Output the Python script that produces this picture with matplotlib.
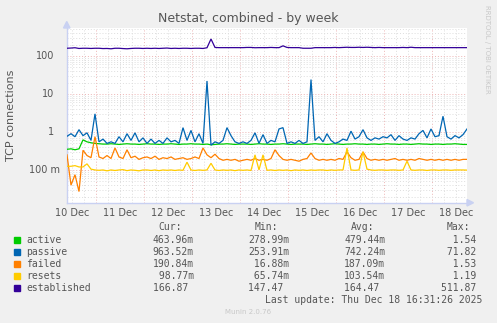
import numpy as np
import matplotlib
matplotlib.use("Agg")
import matplotlib.pyplot as plt
from matplotlib.patches import Rectangle, Polygon
import matplotlib.transforms as mtransforms

# ---------------- data (2-hour samples, starting Dec 10 ~09:25) ----------------
start_day = 0.392  # days after Dec 10 00:00
step_hours = 2.0

active = [0.35,0.36,0.34,0.36,0.62,0.55,0.52,0.5,0.49,0.48,
          0.48,0.49,0.48,0.47,0.48,0.49,0.48,0.48,0.47,0.48,
          0.49,0.48,0.48,0.47,0.48,0.48,0.49,0.48,0.47,0.48,
          0.48,0.49,0.48,0.48,0.47,0.48,0.46,0.47,0.48,0.48,
          0.49,0.48,0.47,0.48,0.48,0.48,0.47,0.48,0.49,0.48,
          0.48,0.47,0.48,0.48,0.49,0.48,0.47,0.48,0.48,0.48,
          0.47,0.48,0.49,0.48,0.48,0.47,0.48,0.49,0.48,0.47,
          0.48,0.48,0.49,0.48,0.48,0.47,0.48,0.48,0.47,0.48,
          0.49,0.48,0.48,0.47,0.48,0.48,0.47,0.48,0.49,0.48,
          0.48,0.47,0.48,0.48,0.47,0.48,0.48,0.49,0.48,0.47,
          0.47]

passive = [0.77,0.9,0.75,1.15,0.8,0.95,0.6,3.0,0.55,0.65,
           0.5,0.55,0.5,0.75,0.55,0.9,0.6,0.95,0.55,0.7,
           0.5,0.65,0.5,0.6,0.5,0.7,0.55,0.6,0.5,1.3,
           0.6,1.1,0.55,0.9,0.5,22.0,0.45,0.55,0.5,0.6,
           1.3,0.8,0.55,0.5,0.55,0.5,0.6,0.95,0.5,0.85,
           0.5,0.6,0.55,1.2,1.3,0.5,0.55,0.5,0.6,0.5,
           0.55,24.0,0.6,0.75,0.55,0.9,0.6,0.5,0.55,0.65,
           0.6,1.05,0.65,0.75,1.15,0.7,0.6,0.7,0.65,0.75,
           0.7,0.85,0.6,0.8,0.65,0.6,0.7,0.65,0.9,1.1,
           0.7,1.2,0.75,0.8,2.6,0.75,0.65,0.8,0.7,0.85,
           1.2]

failed = [0.25,0.04,0.075,0.027,0.33,0.24,0.21,0.75,0.22,0.2,
          0.24,0.2,0.38,0.22,0.2,0.34,0.21,0.23,0.19,0.21,
          0.22,0.2,0.23,0.19,0.21,0.2,0.22,0.19,0.2,0.21,
          0.19,0.2,0.22,0.2,0.38,0.25,0.21,0.26,0.2,0.18,
          0.19,0.18,0.19,0.17,0.18,0.19,0.18,0.2,0.18,0.19,
          0.18,0.2,0.34,0.24,0.19,0.18,0.19,0.18,0.17,0.19,
          0.2,0.28,0.2,0.18,0.19,0.18,0.19,0.18,0.2,0.19,
          0.3,0.21,0.18,0.19,0.3,0.2,0.18,0.19,0.18,0.19,
          0.18,0.19,0.2,0.18,0.19,0.18,0.19,0.18,0.2,0.19,
          0.18,0.19,0.18,0.19,0.18,0.19,0.18,0.19,0.18,0.19,
          0.19]

resets = [0.125,0.125,0.13,0.12,0.12,0.145,0.105,0.1,0.098,0.1,
          0.095,0.1,0.097,0.1,0.102,0.096,0.1,0.098,0.095,0.1,
          0.1,0.097,0.1,0.096,0.1,0.098,0.1,0.097,0.1,0.098,
          0.16,0.1,0.097,0.1,0.098,0.1,0.15,0.1,0.097,0.1,
          0.098,0.1,0.096,0.1,0.098,0.1,0.097,0.25,0.1,0.25,
          0.098,0.1,0.097,0.1,0.098,0.1,0.096,0.1,0.098,0.1,
          0.097,0.1,0.098,0.1,0.1,0.097,0.1,0.098,0.1,0.1,
          0.38,0.1,0.098,0.1,0.3,0.105,0.1,0.098,0.1,0.1,
          0.098,0.1,0.1,0.098,0.1,0.17,0.1,0.098,0.1,0.1,
          0.097,0.1,0.1,0.098,0.1,0.1,0.098,0.1,0.1,0.1,
          0.099]

established = [160,162,165,158,160,160,158,160,160,157,
               158,155,160,160,157,155,158,160,160,158,
               160,158,160,158,160,162,158,160,158,160,
               160,158,160,160,158,165,280,168,166,166,
               166,166,166,166,166,168,168,165,166,166,
               166,168,166,166,185,168,166,166,166,160,
               160,160,166,166,166,166,166,168,166,168,
               170,168,168,170,168,170,168,166,168,166,
               166,166,166,166,168,166,170,166,166,166,
               166,166,166,166,166,166,166,166,166,166,
               166]

series_names = ["active", "passive", "failed", "resets", "established"]
series_colors = ["#00CC00", "#0066B3", "#FF8000", "#FFCC00", "#330099"]
cur_vals = ["463.96m", "963.52m", "190.84m", " 98.77m", "166.87 "]
min_vals = ["278.99m", "253.91m", " 16.88m", " 65.74m", "147.47 "]
avg_vals = ["479.44m", "742.24m", "187.09m", "103.54m", "164.47 "]
max_vals = ["  1.54 ", " 71.82 ", "  1.53 ", "  1.19 ", "511.87 "]

day_labels = ["10 Dec", "11 Dec", "12 Dec", "13 Dec", "14 Dec",
              "15 Dec", "16 Dec", "17 Dec", "18 Dec"]
ytick_vals = [0.1, 1, 10, 100]
ytick_labels = ["100 m", "1", "10", "100"]

# ---------------- figure ----------------
W, H = 497, 323
BG = "#F0F0F0"
FONT = "#555555"
AXC = "#C9D1F2"
fig = plt.figure(figsize=(W / 100, H / 100), dpi=100, facecolor=BG)

def fx(px):
    return px / W

def fy(py):
    return 1 - py / H

L, R, T, B = 67, 467, 28, 203
ax = fig.add_axes([fx(L), fy(B), (R - L) / W, (B - T) / H])
ax.set_facecolor("white")

n = len(passive)
x = start_day + np.arange(n) * step_hours / 24.0
series = [active, passive, failed, resets, established]
for vals, col in zip(series, series_colors):
    ax.plot(x, vals, color=col, lw=0.9, solid_joinstyle="miter", zorder=3)

ax.set_yscale("log")
ax.set_ylim(0.0135, 546)
ax.set_xlim(x[0], x[-1])

MAJ = "#EDB4B4"
MIN = "#DDDDDD"
# grid
for d in range(0, 10):
    for q in range(4):
        xv = d + q * 0.25
        if xv <= x[0] or xv >= x[-1]:
            continue
        ax.axvline(xv, color=MAJ if q == 0 else MIN, lw=0.7, ls=(0, (1, 2)), zorder=1)
for e in range(-2, 3):
    for m in range(1, 10):
        yv = m * 10.0 ** e
        if yv < 0.0135 or yv > 546:
            continue
        ax.axhline(yv, color=MAJ if m == 1 else MIN, lw=0.7, ls=(0, (1, 2)), zorder=1)

ax.set_xticks([])
ax.set_yticks([])
ax.minorticks_off()
for s in ["top", "right"]:
    ax.spines[s].set_visible(False)
ax.spines["left"].set_color(AXC)
ax.spines["bottom"].set_color(AXC)
ax.spines["left"].set_linewidth(1.0)
ax.spines["bottom"].set_linewidth(1.0)

# arrows
fig.patches.append(Polygon([(fx(63.5), fy(28)), (fx(70), fy(28)), (fx(66.75), fy(21.5))],
                           closed=True, color=AXC, transform=fig.transFigure, figure=fig))
fig.patches.append(Polygon([(fx(467), fy(199.5)), (fx(467), fy(206)), (fx(473.5), fy(202.75))],
                           closed=True, color=AXC, transform=fig.transFigure, figure=fig))

# y tick labels (rrdtool style, unit slot)
tr_y = mtransforms.blended_transform_factory(fig.transFigure, ax.transData)
for v, lab in zip(ytick_vals, ytick_labels):
    xr = 60.3 if lab.endswith("m") else 54.3
    ax.text(fx(xr), v, lab, transform=tr_y, ha="right", va="center",
            fontsize=7, color=FONT, family="DejaVu Sans")

# x tick labels at noon
tr_x = mtransforms.blended_transform_factory(ax.transData, fig.transFigure)
for i, lab in enumerate(day_labels):
    ax.text(i + 0.5, fy(212.5), lab, transform=tr_x, ha="center", va="center",
            fontsize=7, color=FONT, family="DejaVu Sans")

# title, y label, side text
fig.text(fx(248), fy(18.5), "Netstat, combined - by week", ha="center", va="center",
         fontsize=9, color=FONT)
fig.text(fx(11), fy(115), "TCP connections", ha="center", va="center",
         rotation=90, fontsize=8, color=FONT)
fig.text(fx(487.5), fy(5), "RRDTOOL / TOBI OETIKER", ha="center", va="top",
         rotation=270, fontsize=5, color="#C8C8C8")

# legend
mono = "DejaVu Sans Mono"
fs = 7
fig.text(fx(158), fy(227.5), "Cur:", ha="left", va="center", fontsize=fs, family=mono, color=FONT)
fig.text(fx(254.5), fy(227.5), "Min:", ha="left", va="center", fontsize=fs, family=mono, color=FONT)
fig.text(fx(351), fy(227.5), "Avg:", ha="left", va="center", fontsize=fs, family=mono, color=FONT)
fig.text(fx(446.7), fy(227.5), "Max:", ha="left", va="center", fontsize=fs, family=mono, color=FONT)
row_y = [239.7, 251.8, 263.7, 275.7, 287.7]
for k in range(len(series_names)):
    yy = row_y[k]
    fig.patches.append(Rectangle((fx(14), fy(yy + 3)), 6 / W, 6 / H, color=series_colors[k],
                                 transform=fig.transFigure, figure=fig))
    fig.text(fx(26.3), fy(yy), series_names[k], ha="left", va="center", fontsize=fs,
             family=mono, color=FONT)
    fig.text(fx(152.7), fy(yy), cur_vals[k], ha="left", va="center", fontsize=fs,
             family=mono, color=FONT)
    fig.text(fx(248.3), fy(yy), min_vals[k], ha="left", va="center", fontsize=fs,
             family=mono, color=FONT)
    fig.text(fx(344.3), fy(yy), avg_vals[k], ha="left", va="center", fontsize=fs,
             family=mono, color=FONT)
    fig.text(fx(441.3), fy(yy), max_vals[k], ha="left", va="center", fontsize=fs,
             family=mono, color=FONT)

fig.text(fx(482.5), fy(299.7), "Last update: Thu Dec 18 16:31:26 2025", ha="right",
         va="center", fontsize=fs, family=mono, color=FONT)
fig.text(fx(248), fy(312), "Munin 2.0.76", ha="center", va="center", fontsize=5,
         color="#C8C8C8")

fig.savefig("out.png", dpi=100, facecolor=BG)
